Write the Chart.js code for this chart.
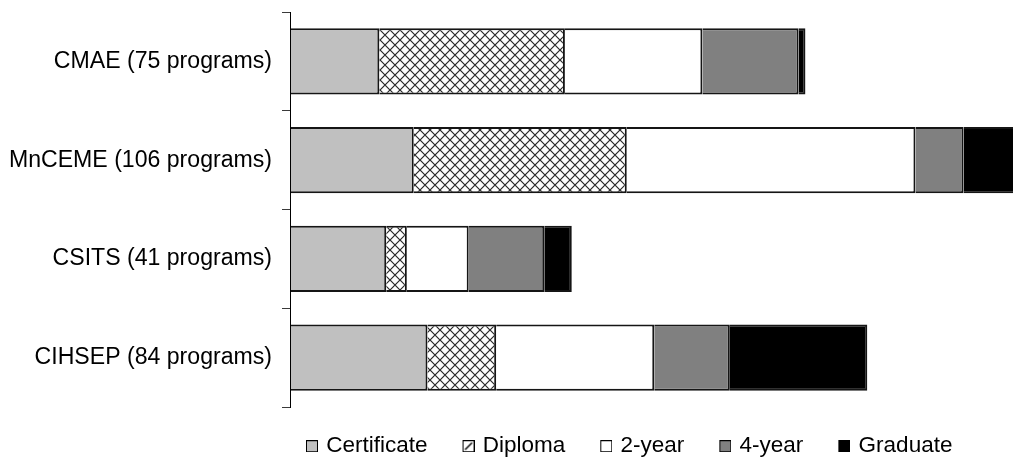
<!DOCTYPE html>
<html><head><meta charset="utf-8">
<script src="https://cdn.jsdelivr.net/npm/chart.js@4/dist/chart.umd.min.js"></script>
<style>html,body{margin:0;padding:0;background:#fff;overflow:hidden}#wrap{width:1013px;height:459px;position:relative}</style>
</head><body><div id="wrap"><canvas id="c"></canvas></div>
<script>
const categories = ['CMAE (75 programs)', 'MnCEME (106 programs)', 'CSITS (41 programs)', 'CIHSEP (84 programs)'];
const seriesNames = ['Certificate', 'Diploma', '2-year', '4-year', 'Graduate'];
const certificate = [13, 18, 14, 20];
const diploma = [27, 31, 3, 10];
const twoYear = [20, 42, 9, 23];
const fourYear = [14, 7, 11, 11];
const graduate = [1, 8, 4, 20];
const xMax = 105.2;

const FONT = "'Liberation Sans', Arial, sans-serif";
const canvas = document.getElementById('c');
const ctx = canvas.getContext('2d');

function crossHatch() {
  const t = document.createElement('canvas');
  t.width = 10; t.height = 10;
  const g = t.getContext('2d');
  g.fillStyle = '#fff'; g.fillRect(0, 0, 10, 10);
  g.strokeStyle = '#2a2a2a'; g.lineWidth = 1.2;
  g.beginPath();
  g.moveTo(-1, -1); g.lineTo(11, 11);
  g.moveTo(11, -1); g.lineTo(-1, 11);
  g.stroke();
  return ctx.createPattern(t, 'repeat');
}
const hatch = crossHatch();

const BOXW = 16;
function icon(fill, diag) {
  const c = document.createElement('canvas');
  c.width = BOXW + 6; c.height = 12;
  const g = c.getContext('2d');
  const x0 = c.width - 12;
  g.fillStyle = fill; g.fillRect(x0, 0, 12, 12);
  if (diag) {
    g.strokeStyle = '#000'; g.lineWidth = 1.4;
    g.beginPath(); g.moveTo(x0 + 2.5, 9.5); g.lineTo(x0 + 9.5, 2.5); g.stroke();
  }
  g.strokeStyle = '#000'; g.lineWidth = 1;
  g.strokeRect(x0 + 0.5, 0.5, 11, 11);
  return c;
}

const fills = ['#c0c0c0', hatch, '#ffffff', '#808080', '#000000'];
const icons = [icon('#c0c0c0'), icon('#ffffff', true), icon('#ffffff'), icon('#808080'), icon('#000000')];
const values = [certificate, diploma, twoYear, fourYear, graduate];

const datasets = seriesNames.map((name, i) => ({
  label: name,
  data: values[i],
  backgroundColor: fills[i],
  borderColor: '#151515',
  borderWidth: 2,
  borderSkipped: 'start',
  categoryPercentage: 1,
  barPercentage: 0.673
}));

const legendShift = {
  id: 'legendShift',
  beforeDraw(chart) { if (chart.legend) chart.legend.left = 271; }
};

new Chart(ctx, {
  type: 'bar',
  data: { labels: categories, datasets },
  plugins: [legendShift],
  options: {
    indexAxis: 'y',
    responsive: true,
    maintainAspectRatio: false,
    animation: false,
    events: [],
    layout: { padding: { top: 12, left: 0, right: 0, bottom: 0 } },
    scales: {
      x: { stacked: true, display: false, min: 0, max: xMax },
      y: {
        stacked: true,
        grid: { offset: true, drawOnChartArea: false, drawTicks: true, tickLength: 8, color: '#3a3a3a', lineWidth: 1 },
        border: { display: true, color: '#000', width: 1, z: 1 },
        ticks: { color: '#000', font: { family: FONT, size: 23.1 }, padding: 10 },
        afterFit(s) { s.width = 290; s.paddingTop = 0; s.paddingBottom = 0; }
      }
    },
    plugins: {
      tooltip: { enabled: false },
      legend: {
        position: 'bottom',
        align: 'start',
        maxHeight: 52,
        labels: {
          usePointStyle: true,
          pointStyleWidth: BOXW,
          boxHeight: 12,
          padding: 28,
          color: '#000',
          font: { family: FONT, size: 22.5 },
          generateLabels() {
            return seriesNames.map((n, i) => ({
              text: n, pointStyle: icons[i], fillStyle: '#fff', strokeStyle: '#000',
              lineWidth: 0, hidden: false, datasetIndex: i, fontColor: '#000'
            }));
          }
        }
      }
    }
  }
});
</script></body></html>
